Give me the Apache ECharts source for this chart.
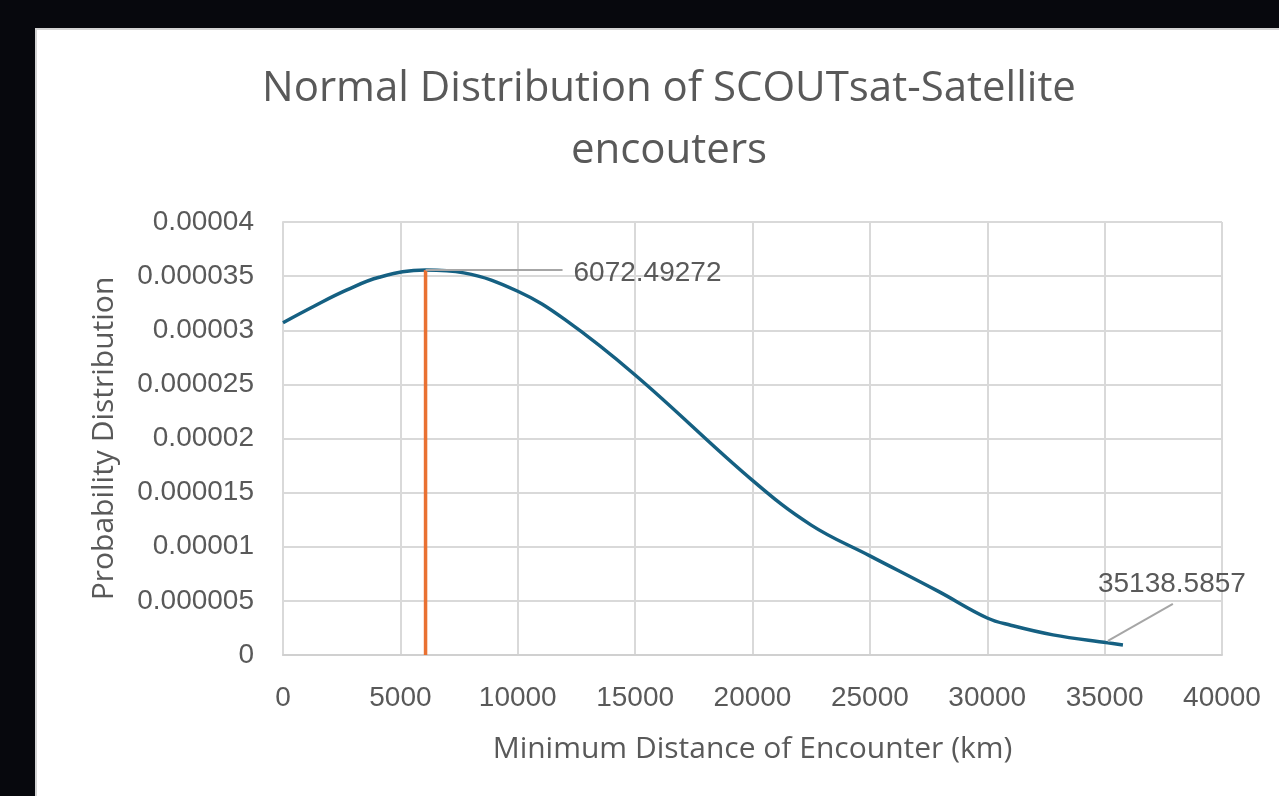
<!DOCTYPE html>
<html>
<head>
<meta charset="utf-8">
<title>Normal Distribution of SCOUTsat-Satellite encouters</title>
<script src="https://cdn.jsdelivr.net/npm/echarts@6.0.0/dist/echarts.min.js"></script>
<style>
  html, body { margin: 0; padding: 0; background: #07080d; }
  .panel {
    position: absolute; left: 35px; top: 28px; right: 0; bottom: 0;
    background: #fff; border-top: 2px solid #d4d4d4; border-left: 2px solid #d4d4d4;
  }
  #chart { position: absolute; left: 0; top: 0; width: 1279px; height: 796px; }
</style>
</head>
<body>
<div class="panel"></div>
<div id="chart"></div>
<script>
  // distance (km) and probability density
  const distances = [0, 1300, 2700, 4100, 6072.49272, 7700, 10000, 12000, 15000,
    20000, 22500, 25000, 27900, 30000, 31000, 32800, 35138.5857, 35780];
  const density = [3.07e-5, 3.22e-5, 3.37e-5, 3.49e-5, 3.556e-5, 3.53e-5, 3.36e-5, 3.10e-5,
    2.587e-5, 1.613e-5, 1.20e-5, 9.16e-6, 5.9e-6, 3.42e-6, 2.75e-6, 1.86e-6, 1.12e-6, 0.93e-6];

  // mean marker
  const meanX = 6072.49272;
  const meanY = 3.556e-5;

  // annotated points
  const labelX = [6072.49272, 35138.5857];
  const labelY = [3.556e-5, 1.12e-6];
  const labelText = ['6072.49272', '35138.5857'];

  const titleLines = ['Normal Distribution of SCOUTsat-Satellite', 'encouters'];

  const grey = '#595959';
  const tickFont = 'Liberation Sans';
  const titleFont = 'Open Sans';

  const chart = echarts.init(document.getElementById('chart'));

  chart.setOption({
    backgroundColor: 'transparent',
    animation: false,
    grid: { left: 283, top: 222, width: 939, height: 433, containLabel: false },
    xAxis: {
      type: 'value',
      min: 0,
      max: 40000,
      interval: 5000,
      name: 'Minimum Distance of Encounter (km)',
      nameLocation: 'middle',
      nameGap: 79,
      nameTextStyle: { fontFamily: titleFont, fontSize: 30, color: grey },
      axisLine: { show: true, lineStyle: { color: '#d0d0d0', width: 2 } },
      axisTick: { show: false },
      axisLabel: { fontFamily: tickFont, fontSize: 28, color: grey, margin: 29, formatter: v => String(v) },
      splitLine: { show: true, lineStyle: { color: '#d9d9d9', width: 2 } }
    },
    yAxis: {
      type: 'value',
      min: 0,
      max: 0.00004,
      interval: 0.000005,
      name: 'Probability Distribution',
      nameLocation: 'middle',
      nameGap: 164,
      nameTextStyle: { fontFamily: titleFont, fontSize: 30, color: grey },
      axisLine: { show: true, lineStyle: { color: '#d9d9d9', width: 2 } },
      axisTick: { show: false },
      axisLabel: {
        fontFamily: tickFont, fontSize: 28, color: grey, margin: 29,
        formatter: v => String(+v.toFixed(7))
      },
      splitLine: { show: true, lineStyle: { color: '#d9d9d9', width: 2 } }
    },
    series: [
      {
        name: 'density',
        type: 'line',
        smooth: 0.4,
        showSymbol: false,
        data: distances.map((d, i) => [d, density[i]]),
        lineStyle: { color: '#156082', width: 3.5 },
        z: 3
      },
      {
        name: 'mean',
        type: 'line',
        showSymbol: false,
        data: [[meanX, 0], [meanX, meanY]],
        lineStyle: { color: '#e97132', width: 3.5 },
        z: 4
      }
    ]
  });

  // title and the two data callouts, placed from the chart's own scale
  const p0 = chart.convertToPixel({ gridIndex: 0 }, [labelX[0], labelY[0]]);
  const p1 = chart.convertToPixel({ gridIndex: 0 }, [labelX[1], labelY[1]]);
  const calloutFont = '28px ' + tickFont;

  chart.setOption({
    graphic: [
      {
        type: 'text', x: 669, y: 89,
        style: { text: titleLines[0], fill: grey, font: '42px "' + titleFont + '"', align: 'center', verticalAlign: 'middle' }
      },
      {
        type: 'text', x: 669, y: 151,
        style: { text: titleLines[1], fill: grey, font: '42px "' + titleFont + '"', align: 'center', verticalAlign: 'middle' }
      },
      {
        type: 'polyline', z: 10,
        shape: { points: [[p0[0], p0[1]], [p0[0] + 137, p0[1]]] },
        style: { stroke: '#a6a6a6', lineWidth: 2, fill: null }
      },
      {
        type: 'text', z: 10, x: p0[0] + 148, y: p0[1] + 3,
        style: { text: labelText[0], fill: grey, font: calloutFont, align: 'left', verticalAlign: 'middle' }
      },
      {
        type: 'polyline', z: 10,
        shape: { points: [[p1[0], p1[1] - 2], [p1[0] + 65, p1[1] - 39]] },
        style: { stroke: '#a6a6a6', lineWidth: 2, fill: null }
      },
      {
        type: 'text', z: 10, x: p1[0] + 64, y: p1[1] - 59,
        style: { text: labelText[1], fill: grey, font: calloutFont, align: 'center', verticalAlign: 'middle' }
      }
    ]
  });
</script>
</body>
</html>
